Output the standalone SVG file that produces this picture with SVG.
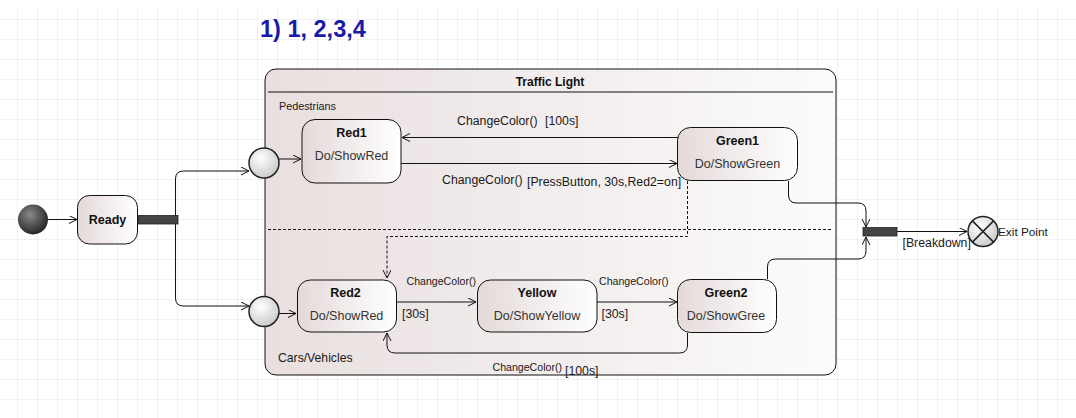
<svg xmlns="http://www.w3.org/2000/svg" width="1076" height="418" viewBox="0 0 1076 418">
<defs>
<pattern id="grid" x="17" y="19" width="20" height="20" patternUnits="userSpaceOnUse">
<path d="M0,0 V20 M0,0 H20" fill="none" stroke="#e4e4e4" stroke-width="1"/>
</pattern>
<linearGradient id="nodeFill" x1="0" y1="0" x2="1" y2="0">
<stop offset="0" stop-color="#e4d9d9"/>
<stop offset="1" stop-color="#ffffff"/>
</linearGradient>
<linearGradient id="contFill" x1="0" y1="0" x2="1" y2="0">
<stop offset="0" stop-color="#e9dfdf"/>
<stop offset="1" stop-color="#fcfbfb"/>
</linearGradient>
<radialGradient id="initFill" cx="0.4" cy="0.35" r="0.7">
<stop offset="0" stop-color="#8a8a8a"/>
<stop offset="1" stop-color="#1e1e1e"/>
</radialGradient>
<radialGradient id="pointFill" cx="0.4" cy="0.35" r="0.75">
<stop offset="0" stop-color="#ffffff"/>
<stop offset="1" stop-color="#c4c4c4"/>
</radialGradient>
<marker id="arr" markerWidth="10" markerHeight="10" refX="8" refY="4" orient="auto" markerUnits="userSpaceOnUse">
<path d="M0,0 L8,4 L0,8" fill="none" stroke="#111" stroke-width="1"/>
</marker>
<style>
.t{font-family:"Liberation Sans",Arial,sans-serif;fill:#1a1a1a}
.name{font-size:12.5px;font-weight:bold;text-anchor:middle;fill:#111}
.act{font-size:12.5px;text-anchor:middle;fill:#333}
.lbl{font-size:12.3px}
.sm{font-size:10.6px}
.node{fill:url(#nodeFill);stroke:#111;stroke-width:1}
.c{fill:none;stroke:#111;stroke-width:1}
.ca{fill:none;stroke:#111;stroke-width:1;marker-end:url(#arr)}
.pt{fill:url(#pointFill);stroke:#222;stroke-width:1.5}
</style>
</defs>
<rect x="0" y="0" width="1076" height="418" fill="#ffffff"/>
<rect x="0" y="8" width="1076" height="410" fill="url(#grid)"/>

<text class="t" x="260" y="37" style="font-size:23.5px;font-weight:bold;fill:#1a1aa8">1) 1, 2,3,4</text>

<g id="traffic-light">
<rect x="265" y="69" width="571" height="306" rx="11" fill="url(#contFill)" stroke="#111" stroke-width="1"/>
<line x1="268" y1="92" x2="833" y2="92" stroke="#111" stroke-width="1"/>
<text class="t" x="550" y="86" style="font-size:12px;font-weight:bold;text-anchor:middle;fill:#111">Traffic Light</text>
<line x1="268" y1="229.5" x2="833" y2="229.5" stroke="#111" stroke-width="1" stroke-dasharray="3,2"/>
<text class="t" x="279" y="110" style="font-size:10.8px">Pedestrians</text>
<text class="t" x="278" y="362" style="font-size:12.2px">Cars/Vehicles</text>
</g>

<g id="connectors">
<path class="ca" d="M48,219.5 H77"/>
<path class="c" d="M143,216 L138,220 L143,224"/>
<path class="ca" d="M175.5,220 V179 Q175.5,171 183.5,171 H249"/>
<path class="ca" d="M175.5,220 V298 Q175.5,306 183.5,306 H249"/>
<path class="ca" d="M279,159 H301"/>
<path class="ca" d="M279,313.5 H296"/>
<path class="ca" d="M678,137.5 H402"/>
<path class="ca" d="M401,163.5 H677"/>
<path class="ca" d="M687.5,181 V236.5 H387 V278" stroke-dasharray="3,2"/>
<path class="ca" d="M788.5,181 V195 Q788.5,203 796.5,203 H858 Q866,203 866,211 V227"/>
<path class="ca" d="M767.5,279 V267 Q767.5,259 775.5,259 H858 Q866,259 866,251 V237"/>
<path class="ca" d="M897,231.5 H967"/>
<path class="ca" d="M397,302 H476"/>
<path class="ca" d="M597,302 H677"/>
<path class="ca" d="M687.5,333 V345 Q687.5,353 679.5,353 H395 Q387,353 387,345 V333"/>
<text class="t lbl" x="457" y="125">ChangeColor()</text>
<text class="t lbl" x="545" y="125">[100s]</text>
<text class="t lbl" x="442" y="184">ChangeColor()</text>
<text class="t lbl" x="527" y="186">[PressButton, 30s,Red2=on]</text>
<text class="t sm" x="406.5" y="285">ChangeColor()</text>
<text class="t lbl" x="402" y="318">[30s]</text>
<text class="t sm" x="599" y="285">ChangeColor()</text>
<text class="t lbl" x="601.5" y="318">[30s]</text>
<text class="t sm" x="492.5" y="371">ChangeColor()</text>
<text class="t lbl" x="565" y="375">[100s]</text>
<text class="t lbl" x="902.5" y="246.5">[Breakdown]</text>
</g>

<g id="initial">
<circle cx="33" cy="219.5" r="15" fill="url(#initFill)"/>
</g>

<g id="ready">
<rect class="node" x="77.5" y="195.5" width="60" height="48.5" rx="12"/>
<text class="t name" x="107.5" y="223.5">Ready</text>
</g>

<g id="fork">
<rect x="138" y="215.5" width="40" height="8.5" fill="#444" stroke="#222" stroke-width="0.8"/>
</g>

<g id="entry-pedestrians">
<circle class="pt" cx="264" cy="163" r="15"/>
</g>

<g id="entry-cars">
<circle class="pt" cx="264" cy="311.5" r="15"/>
</g>

<g id="red1">
<rect class="node" x="302" y="119.5" width="99" height="63.5" rx="13"/>
<text class="t name" x="351.5" y="137">Red1</text>
<text class="t act" x="351.5" y="160">Do/ShowRed</text>
</g>

<g id="green1">
<rect class="node" x="677.5" y="127.5" width="120" height="53" rx="13"/>
<text class="t name" x="737.5" y="145">Green1</text>
<text class="t act" x="737.5" y="167.5">Do/ShowGreen</text>
</g>

<g id="red2">
<rect class="node" x="297.5" y="280" width="99" height="52" rx="13"/>
<text class="t name" x="345.5" y="297">Red2</text>
<text class="t act" x="346.5" y="320">Do/ShowRed</text>
</g>

<g id="yellow">
<rect class="node" x="477.5" y="280" width="119.5" height="52" rx="13"/>
<text class="t name" x="537" y="297">Yellow</text>
<text class="t act" x="537" y="320">Do/ShowYellow</text>
</g>

<g id="green2">
<rect class="node" x="677.5" y="279.5" width="99" height="53" rx="13"/>
<text class="t name" x="726" y="297">Green2</text>
<text class="t act" x="726" y="319.5">Do/ShowGree</text>
</g>

<g id="join">
<rect x="863" y="227.5" width="34" height="8.5" fill="#444" stroke="#222" stroke-width="0.8"/>
</g>

<g id="exit-point">
<circle class="pt" cx="983" cy="231.5" r="15"/>
<path d="M972.4,220.9 L993.6,242.1 M993.6,220.9 L972.4,242.1" stroke="#222" stroke-width="1.5"/>
<text class="t" x="998" y="235.5" style="font-size:11.8px">Exit Point</text>
</g>
</svg>
